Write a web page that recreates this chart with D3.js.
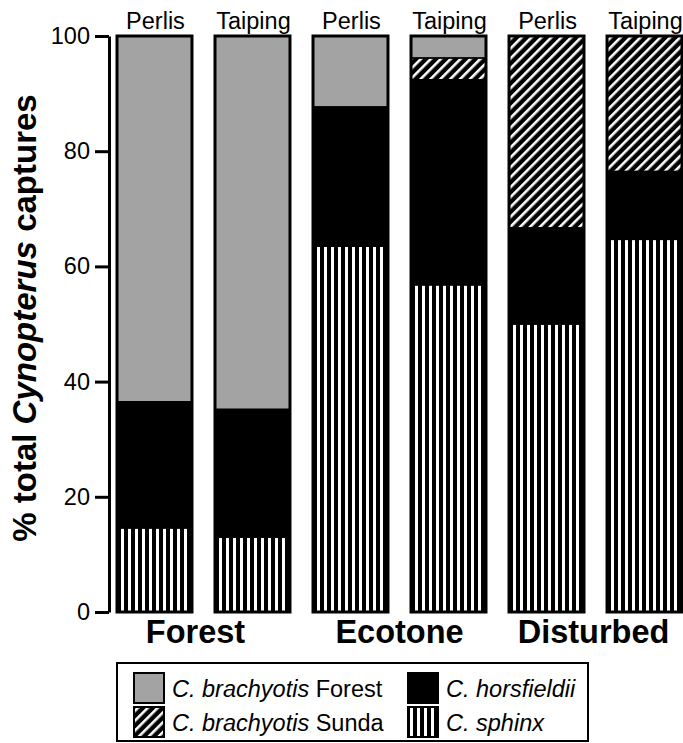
<!DOCTYPE html>
<html>
<head>
<meta charset="utf-8">
<script src="https://cdn.jsdelivr.net/npm/d3@7"></script>
<style>
  html, body { margin: 0; padding: 0; background: #fff; }
  svg { display: block; font-family: "Liberation Sans", Arial, Helvetica, sans-serif; }
</style>
</head>
<body>
<svg id="chart" width="683" height="743"></svg>
<script>
// Sites within each habitat, and the habitat groups
const habitats = ["Forest", "Ecotone", "Disturbed"];
const sites = ["Perlis", "Taiping"];

// Species stacked from the bottom up
const species = ["sphinx", "horsfieldii", "sunda", "brachyForest"];

// Percent of total Cynopterus captures per bar (Forest P, Forest T, Ecotone P, Ecotone T, Disturbed P, Disturbed T)
const sphinxPct      = [14.6, 13.0, 63.5, 56.8, 50.0, 64.7];
const horsfieldiiPct = [21.9, 22.2, 24.2, 35.6, 16.7, 11.8];
const sundaPct       = [ 0.0,  0.0,  0.0,  3.8, 33.3, 23.5];
const brachyForestPct= [63.5, 64.8, 12.3,  3.8,  0.0,  0.0];

const yTicks = [0, 20, 40, 60, 80, 100];

const legendItems = [
  { key: "brachyForest", italic: "C. brachyotis", plain: " Forest" },
  { key: "sunda",        italic: "C. brachyotis", plain: " Sunda" },
  { key: "horsfieldii",  italic: "C. horsfieldii", plain: "" },
  { key: "sphinx",       italic: "C. sphinx", plain: "" }
];

const svg = d3.select("#chart");

// Fill patterns
const defs = svg.append("defs");
const vert = defs.append("pattern").attr("id", "pat-vert")
  .attr("patternUnits", "userSpaceOnUse").attr("width", 7).attr("height", 7);
vert.append("rect").attr("width", 7).attr("height", 7).attr("fill", "#000");
vert.append("rect").attr("x", 2).attr("width", 3).attr("height", 7).attr("fill", "#fff");

const diag = defs.append("pattern").attr("id", "pat-diag")
  .attr("patternUnits", "userSpaceOnUse").attr("width", 7).attr("height", 7)
  .attr("patternTransform", "rotate(45)");
diag.append("rect").attr("width", 7).attr("height", 7).attr("fill", "#000");
diag.append("rect").attr("x", 2).attr("width", 2.6).attr("height", 7).attr("fill", "#fff");

const fills = {
  sphinx: "url(#pat-vert)",
  horsfieldii: "#000",
  sunda: "url(#pat-diag)",
  brachyForest: "#a3a3a3"
};

// Rows of data, one per bar
const bars = [];
habitats.forEach((h, hi) => sites.forEach((s, si) => {
  const i = hi * sites.length + si;
  bars.push({ id: h + "-" + s, habitat: h, site: s,
    sphinx: sphinxPct[i], horsfieldii: horsfieldiiPct[i],
    sunda: sundaPct[i], brachyForest: brachyForestPct[i] });
}));

const x = d3.scaleBand().domain(bars.map(d => d.id))
  .range([117, 682]).paddingInner(0.235).paddingOuter(0);
const y = d3.scaleLinear().domain([0, 100]).range([612, 36]);

const stacked = d3.stack().keys(species)(bars);

// Stacked segments
const layer = svg.append("g").selectAll("g").data(stacked).join("g")
  .attr("fill", d => fills[d.key]);
layer.selectAll("rect").data(d => d.filter(p => p[1] - p[0] > 0)).join("rect")
  .attr("x", p => x(p.data.id))
  .attr("width", x.bandwidth())
  .attr("y", p => y(p[1]))
  .attr("height", p => y(p[0]) - y(p[1]))
  .attr("stroke", "#000").attr("stroke-width", 1.5);

// Bar outlines
svg.append("g").selectAll("rect").data(bars).join("rect")
  .attr("x", d => x(d.id)).attr("width", x.bandwidth())
  .attr("y", y(100)).attr("height", y(0) - y(100))
  .attr("fill", "none").attr("stroke", "#000").attr("stroke-width", 3);

// Site labels above bars
svg.append("g").selectAll("text").data(bars).join("text")
  .attr("x", d => x(d.id) + x.bandwidth() / 2 + 1).attr("y", 29)
  .attr("text-anchor", "middle").attr("font-size", 23.5).attr("fill", "#000")
  .text(d => d.site);

// Habitat labels below (the first one sits slightly left of its pair)
const habitatNudge = { Forest: -8, Ecotone: 0, Disturbed: -2 };
svg.append("g").selectAll("text").data(habitats).join("text")
  .attr("x", h => {
    const a = x(h + "-" + sites[0]), b = x(h + "-" + sites[1]) + x.bandwidth();
    return (a + b) / 2 + habitatNudge[h];
  })
  .attr("y", 643).attr("text-anchor", "middle")
  .attr("font-size", 32.5).attr("font-weight", "bold").attr("fill", "#000")
  .text(h => h);

// Y axis
const yAxis = svg.append("g").attr("transform", "translate(109,0)")
  .call(d3.axisLeft(y).tickValues(yTicks).tickSize(14).tickSizeOuter(0).tickPadding(5));
yAxis.select(".domain").attr("stroke-width", 3);
yAxis.selectAll(".tick line").attr("stroke-width", 3);
yAxis.selectAll(".tick text").attr("font-size", 23.5)
  .attr("font-family", "\"Liberation Sans\", Arial, sans-serif").attr("fill", "#000");

// Y axis title
const title = svg.append("text")
  .attr("transform", "translate(36,318) rotate(-90)")
  .attr("text-anchor", "middle").attr("font-size", 33).attr("font-weight", "bold");
title.append("tspan").text("% total ");
title.append("tspan").attr("font-style", "italic").text("Cynopterus");
title.append("tspan").text(" captures");

// Legend
const lg = svg.append("g");
lg.append("rect").attr("x", 117).attr("y", 663).attr("width", 471).attr("height", 78)
  .attr("fill", "#fff").attr("stroke", "#000").attr("stroke-width", 2);
const item = lg.selectAll("g.item").data(legendItems).join("g").attr("class", "item")
  .attr("transform", (d, i) => `translate(${i < 2 ? 134 : 408},${i % 2 === 0 ? 673 : 707})`);
item.append("rect").attr("width", 30).attr("height", 30)
  .attr("fill", d => fills[d.key]).attr("stroke", "#000").attr("stroke-width", 2);
const lt = item.append("text").attr("x", 38).attr("y", 24).attr("font-size", 23.5).attr("fill", "#000");
lt.append("tspan").attr("font-style", "italic").text(d => d.italic);
lt.append("tspan").text(d => d.plain);
</script>
</body>
</html>
